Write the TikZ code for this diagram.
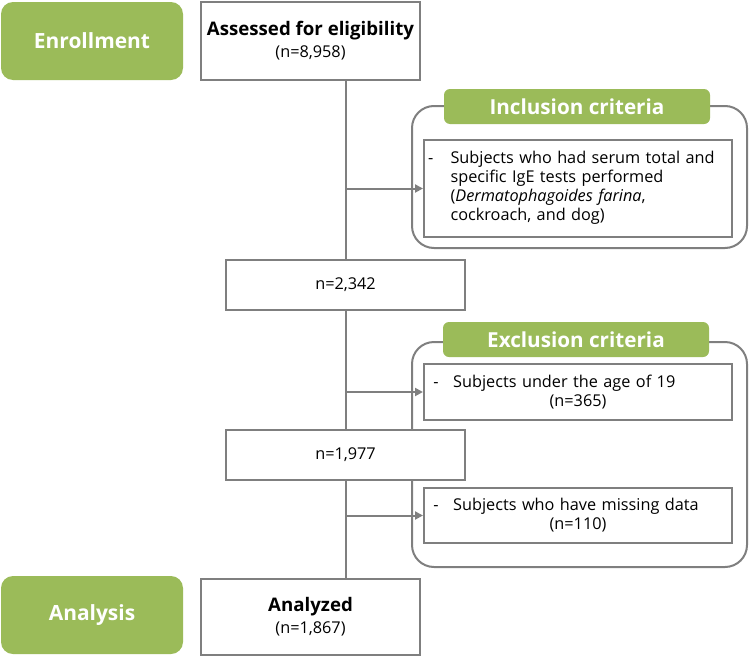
\documentclass[tikz,border=0pt]{standalone}
\usepackage{fontspec}
\setmainfont{Open Sans}
\usetikzlibrary{arrows.meta}
\definecolor{stagegreen}{RGB}{155,187,89}
\definecolor{linegray}{RGB}{127,127,127}

\tikzset{every picture/.style={line width=0.75pt}}
\tikzset{
  stage/.style={fill=stagegreen, rounded corners=9pt, text=white, inner sep=0pt,
    font=\bfseries\fontsize{15.7}{19}\selectfont, minimum width=136.5pt, minimum height=58.5pt},
  tab/.style={fill=stagegreen, rounded corners=4.5pt, text=white, inner sep=0pt,
    font=\bfseries\fontsize{15.5}{18}\selectfont, minimum width=199.5pt, minimum height=26.25pt},
  flowbox/.style={draw=linegray, line width=1.5pt, fill=white, inner sep=0pt, align=center,
    font=\fontsize{12.2}{16.5}\selectfont},
  critbox/.style={draw=linegray, line width=1.5pt, fill=white, inner xsep=3pt, inner ysep=0pt,
    minimum width=231pt, text width=225pt, align=left, font=\fontsize{12.2}{14.3}\selectfont},
  group/.style={draw=linegray, line width=1.5pt, rounded corners=16.5pt},
  flow/.style={draw=linegray, line width=1.5pt},
  feed/.style={draw=linegray, line width=1.5pt, -{Triangle[length=6pt,width=6pt]}}
}

\begin{document}
\begin{tikzpicture}[x=0.75pt,y=0.75pt,yscale=-1,xscale=1]
    \useasboundingbox (0,0) rectangle (750,657);

    %Rounded Rect (criteria frames)
    \draw [group] (412,106) rectangle (747,248) ;
    \draw [group] (412,342) rectangle (747,567) ;

    % Stage Nodes
    \node [stage] (enrol) at (92,41) {Enrollment};
    \node [stage] (anal) at (92,615) {Analysis};

    % Flow Nodes
    \node [flowbox, minimum width=164.25pt, minimum height=58.5pt] (assess) at (310.5,41)
      {{\bfseries\fontsize{14}{17}\selectfont Assessed for eligibility}\\(n=8,958)};
    \node [flowbox, minimum width=179.25pt, minimum height=37.5pt] (cnta) at (345.5,285) {n=2,342};
    \node [flowbox, minimum width=179.25pt, minimum height=37.5pt] (cntb) at (345.5,455) {n=1,977};
    \node [flowbox, minimum width=164.25pt, minimum height=57pt] (final) at (310.5,617)
      {{\bfseries\fontsize{14}{17}\selectfont Analyzed}\\(n=1,867)};

    % Criteria Nodes
    \node [critbox, minimum height=72.75pt] (incl) at (578,188.5)
      {\begin{tabular}{@{}l@{\hspace{13pt}}l@{}}-&Subjects who had serum total and\\
       &specific IgE tests performed\\ &(\textit{Dermatophagoides farina},\\ &cockroach, and dog)\end{tabular}};
    \node [critbox, minimum height=42pt] (exca) at (578,392)
      {\hspace{4pt}-\hspace{11pt}Subjects under the age of 19\\ \hspace*{\fill}(n=365)\hspace*{\fill}\null};
    \node [critbox, minimum height=41.25pt] (excb) at (578,515.5)
      {\hspace{4pt}-\hspace{11pt}Subjects who have missing data\\ \hspace*{\fill}(n=110)\hspace*{\fill}\null};

    % Tab Nodes
    \node [tab] (incltab) at (577,106.5) {Inclusion criteria};
    \node [tab] (excltab) at (576,339.5) {Exclusion criteria};

    %Straight Lines
    \draw [flow] (cnta.north |- assess.south) -- (cnta.north) ;
    \draw [flow] (cnta.south) -- (cntb.north) ;
    \draw [flow] (cntb.south) -- (cntb.south |- final.north) ;
    %Arrows
    \draw [feed] (cnta.north |- incl.west) -- (incl.west) ;
    \draw [feed] (cnta.south |- exca.west) -- (exca.west) ;
    \draw [feed] (cntb.south |- excb.west) -- (excb.west) ;

\end{tikzpicture}
\end{document}
